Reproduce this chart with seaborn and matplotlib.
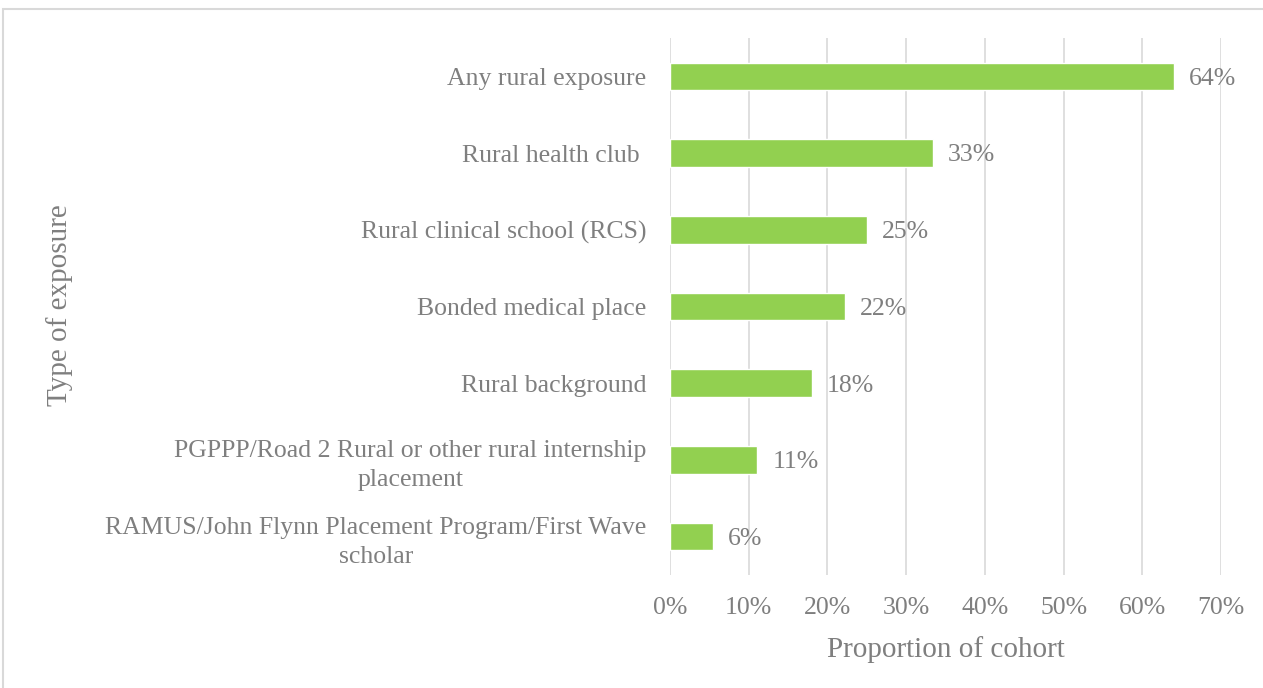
import matplotlib
matplotlib.use('Agg')
import matplotlib.pyplot as plt
import seaborn as sns
import pandas as pd
from matplotlib.patches import Rectangle

categories = [
  'Any rural exposure',
  'Rural health club ',
  'Rural clinical school (RCS)',
  'Bonded medical place',
  'Rural background',
  'PGPPP/Road 2 Rural or other rural internship\nplacement',
  'RAMUS/John Flynn Placement Program/First Wave\nscholar',
]
values = [64.0, 33.4, 25.0, 22.2, 18.0, 11.1, 5.5]
value_labels = ['64%', '33%', '25%', '22%', '18%', '11%', '6%']
x_ticks = [0, 10, 20, 30, 40, 50, 60, 70]

text_col = '#7f7f7f'
fs = 18.5
sns.set_theme(style='white')
plt.rcParams['font.family'] = ['Liberation Serif', 'DejaVu Serif']

df = pd.DataFrame({'cat': categories, 'val': values})

fig = plt.figure(figsize=(12.63, 6.88), dpi=100)
ax = fig.add_axes([0.5305, 0.1642, 0.4363, 0.7806])

# outer frame, cut off on the right and bottom like the source
fig.patches.append(Rectangle((3 / 1263, -0.05), 1.2, 1 - 9 / 688 + 0.05,
                             transform=fig.transFigure, fill=False,
                             edgecolor='#d9d9d9', linewidth=1.5))

sns.barplot(data=df, x='val', y='cat', color='#92D050', width=0.36,
            saturation=1, ax=ax, zorder=3)

ax.set_xlim(0, 70)
ax.set_ylim(6.5, -0.5)
ax.set_xticks(x_ticks)
ax.set_xticklabels([f'{t}%' for t in x_ticks], color=text_col, fontsize=fs)
ax.set_yticks(range(len(categories)))
ax.set_yticklabels(categories, color=text_col, fontsize=fs,
                   multialignment='center', linespacing=1.4)
ax.tick_params(axis='y', length=0, pad=17)
ax.tick_params(axis='x', length=0, pad=16)

ax.grid(axis='x', color='#d9d9d9', linewidth=1.2, zorder=0)
for s in ax.spines.values():
  s.set_visible(False)

for i, (v, t) in enumerate(zip(values, value_labels)):
  ax.text(v + 1.9, i + 0.03, t, va='center', ha='left', color=text_col, fontsize=fs)

ax.set_xlabel('Proportion of cohort', color=text_col, fontsize=21, labelpad=12)
ax.set_ylabel('')
fig.text(60 / 1263, 1 - 305 / 688, 'Type of exposure', rotation=90,
         ha='center', va='center', color=text_col, fontsize=21)

plt.savefig('out.png', dpi=100)
